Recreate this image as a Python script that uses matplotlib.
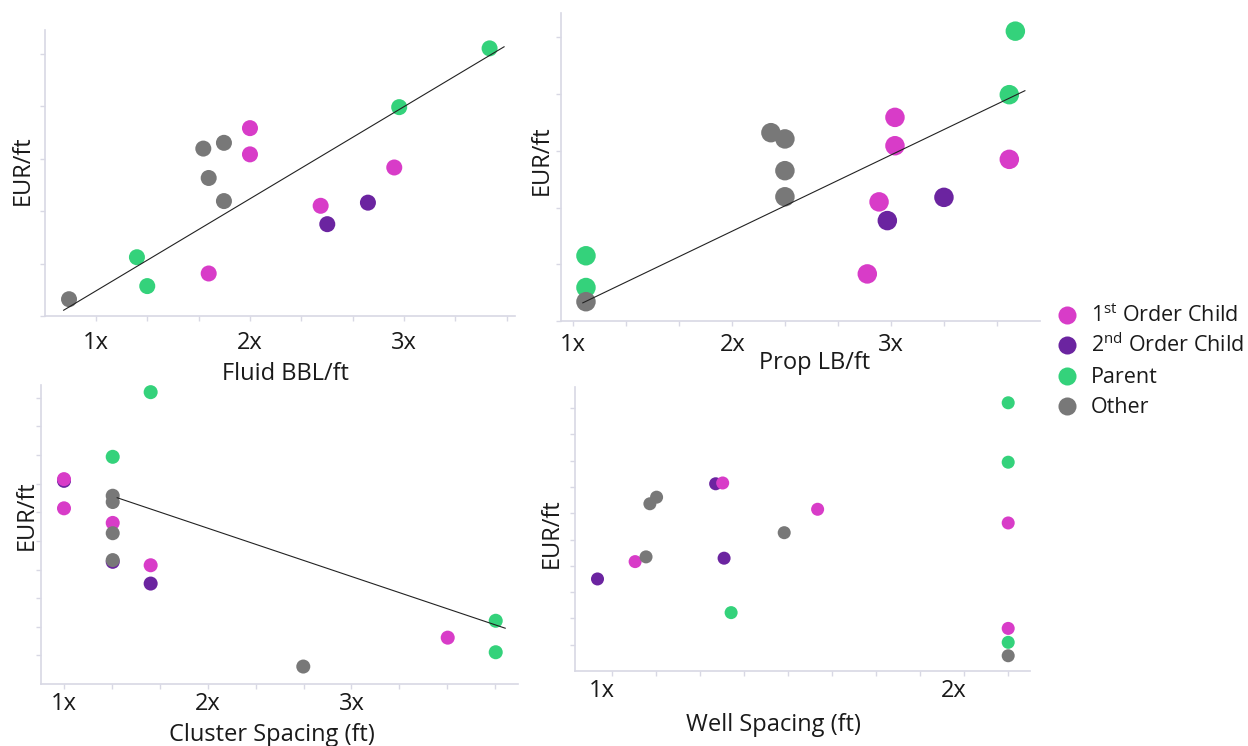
import numpy as np
import matplotlib.pyplot as plt
import matplotlib.transforms as mtransforms
from matplotlib.lines import Line2D

plt.rcParams['font.family'] = ['Open Sans', 'DejaVu Sans']
plt.rcParams['mathtext.fontset'] = 'custom'
plt.rcParams['mathtext.rm'] = 'Open Sans'

W, H = 1248, 746

# well groups
groups = ['c1', 'c2', 'parent', 'other']
group_colors = {'c1': '#d83cc8', 'c2': '#6b24a0', 'parent': '#34d27b', 'other': '#787878'}
group_labels = ['1$^{\\rm st}$ Order Child', '2$^{\\rm nd}$ Order Child', 'Parent', 'Other']

# EUR/ft vs fluid
fluid_x = [0.825, 1.266, 1.333, 1.732, 1.697, 1.831, 1.732, 1.831, 2.0, 2.0, 2.459, 2.502, 2.766, 2.937, 2.969, 3.556]
fluid_eur = [0.32, 1.12, 0.57, 0.81, 3.19, 3.30, 2.63, 2.19, 3.58, 3.08, 2.10, 1.75, 2.16, 2.83, 3.98, 5.10]
fluid_grp = ['other', 'parent', 'parent', 'c1', 'other', 'other', 'other', 'other', 'c1', 'c1', 'c1', 'c2', 'c2', 'c1', 'parent', 'parent']
fluid_trend_x = [0.79, 3.65]
fluid_trend_y = [0.11, 5.13]

# EUR/ft vs proppant
prop_x = [1.08, 1.08, 1.08, 2.849, 2.243, 2.331, 2.331, 2.331, 2.923, 2.975, 3.023, 3.023, 3.331, 3.742, 3.742, 3.780]
prop_eur = [1.15, 0.59, 0.34, 0.83, 3.32, 3.21, 2.65, 2.19, 2.10, 1.77, 3.59, 3.09, 2.18, 2.85, 3.99, 5.11]
prop_grp = ['parent', 'parent', 'other', 'c1', 'other', 'other', 'other', 'other', 'c1', 'c2', 'c1', 'c1', 'c2', 'c1', 'parent', 'parent']
prop_trend_x = [1.06, 3.84]
prop_trend_y = [0.32, 4.06]

# EUR/ft vs cluster spacing
cluster_x = [1.603, 1.339, 1.0, 1.0, 1.0, 1.339, 1.339, 1.339, 1.339, 1.339, 1.339, 1.603, 1.603, 2.665, 3.670, 4.004, 4.004]
cluster_eur = [10.20, 7.94, 7.10, 7.16, 6.14, 6.58, 6.36, 5.63, 5.27, 4.27, 4.33, 4.15, 3.51, 0.61, 1.62, 2.21, 1.11]
cluster_grp = ['parent', 'parent', 'c2', 'c1', 'c1', 'other', 'other', 'c1', 'other', 'c2', 'other', 'c1', 'c2', 'other', 'c1', 'parent', 'parent']
cluster_trend_x = [1.37, 4.07]
cluster_trend_y = [6.51, 1.95]

# EUR/ft vs well spacing
well_x = [2.126, 2.126, 1.294, 1.314, 1.107, 1.126, 1.584, 2.126, 1.489, 1.065, 1.096, 1.318, 0.958, 1.338, 2.126, 2.126, 2.126]
well_eur = [10.20, 7.94, 7.12, 7.15, 6.36, 6.61, 6.15, 5.63, 5.26, 4.16, 4.34, 4.29, 3.50, 2.22, 1.62, 1.09, 0.58]
well_grp = ['parent', 'parent', 'c2', 'c1', 'other', 'other', 'c1', 'c1', 'other', 'c1', 'other', 'c2', 'c2', 'parent', 'c1', 'parent', 'other']

axis_col = '#d8d8e4'
text_col = '#1a1a1a'
FS = 17


def box(left, top, right, bottom):
    return [left / W, 1 - bottom / H, (right - left) / W, (bottom - top) / H]


def panel(rect, xs, ys, grp, size, xlim, ylim, xticks, yticks, xlabels, pad):
    ax = fig.add_axes(rect)
    ax.scatter(xs, ys, s=size, c=[group_colors[g] for g in grp], linewidths=0, zorder=3)
    ax.set_xlim(xlim)
    ax.set_ylim(ylim)
    for side in ['top', 'right']:
        ax.spines[side].set_visible(False)
    for side in ['left', 'bottom']:
        ax.spines[side].set_color(axis_col)
        ax.spines[side].set_linewidth(1.2)
    ax.set_xticks(xticks)
    ax.set_xticklabels(xlabels)
    ax.set_yticks(yticks)
    ax.set_yticklabels([])
    ax.tick_params(direction='out', length=3.6, width=1, color=axis_col,
                   labelsize=FS, labelcolor=text_col)
    ax.tick_params(axis='x', pad=pad)
    ax.patch.set_alpha(0)
    return ax


def whole_labels(ticks, last=3):
    out = []
    for t in ticks:
        r = round(t)
        out.append('%dx' % r if abs(t - r) < 1e-6 and r <= last else '')
    return out


fig = plt.figure(figsize=(W / 100, H / 100), dpi=100)

t1 = [1 + k / 3 for k in range(9)]
ax1 = panel(box(45, 30, 515, 316), fluid_x, fluid_eur, fluid_grp, 133,
            (0.669, 3.721), (0, 5.45), t1, [0, 1, 2, 3, 4, 5], whole_labels(t1), 7.3)
ax1.plot(fluid_trend_x, fluid_trend_y, color='#222222', lw=0.8, zorder=4)

ax2 = panel(box(561, 13, 1040, 321), prop_x, prop_eur, prop_grp, 197,
            (0.923, 3.935), (0, 5.43), t1, [0, 1, 2, 3, 4, 5], whole_labels(t1), 5.2)
ax2.plot(prop_trend_x, prop_trend_y, color='#222222', lw=0.8, zorder=4)

t3 = [1 + k / 3 for k in range(10)]
ax3 = panel(box(41, 385, 518, 684), cluster_x, cluster_eur, cluster_grp, 102,
            (0.84, 4.159), (0, 10.45), t3, list(range(1, 11)), whole_labels(t3), 1.8)
ax3.plot(cluster_trend_x, cluster_trend_y, color='#222222', lw=0.8, zorder=4)

t4 = [1 + k / 8 for k in range(10)]
ax4 = panel(box(575, 387, 1030, 671), well_x, well_eur, well_grp, 88,
            (0.894, 2.188), (0, 10.8), t4, list(range(1, 11)), whole_labels(t4), 2.3)
# well spacing labels sit a little left of their ticks
shift = mtransforms.ScaledTranslation(-10 / 100, 0, fig.dpi_scale_trans)
for lab in ax4.get_xticklabels():
    lab.set_transform(lab.get_transform() + shift)


# axis titles
def fig_text(x, y, s, **kw):
    kw.setdefault('ha', 'center')
    kw.setdefault('va', 'center')
    kw.setdefault('fontsize', FS)
    fig.text(x / W, 1 - y / H, s, color=text_col, **kw)


fig_text(285, 374, 'Fluid BBL/ft')
fig_text(815, 363, 'Prop LB/ft')
fig_text(272, 735, 'Cluster Spacing (ft)')
fig_text(773, 725, 'Well Spacing (ft)')
fig_text(23, 170, 'EUR/ft', rotation=90)
fig_text(542, 160, 'EUR/ft', rotation=90)
fig_text(27, 515, 'EUR/ft', rotation=90)
fig_text(552, 533, 'EUR/ft', rotation=90)

# legend on the right
rows_y = [315, 345, 376, 406]
for g, lab, ry in zip(groups, group_labels, rows_y):
    fig.add_artist(Line2D([1067 / W], [1 - ry / H], transform=fig.transFigure, marker='o',
                          markersize=13, markerfacecolor=group_colors[g], markeredgewidth=0,
                          linestyle='none'))
    fig_text(1091, ry + 7, lab, ha='left', va='baseline', fontsize=15.5)

fig.savefig('out.png', dpi=100)
